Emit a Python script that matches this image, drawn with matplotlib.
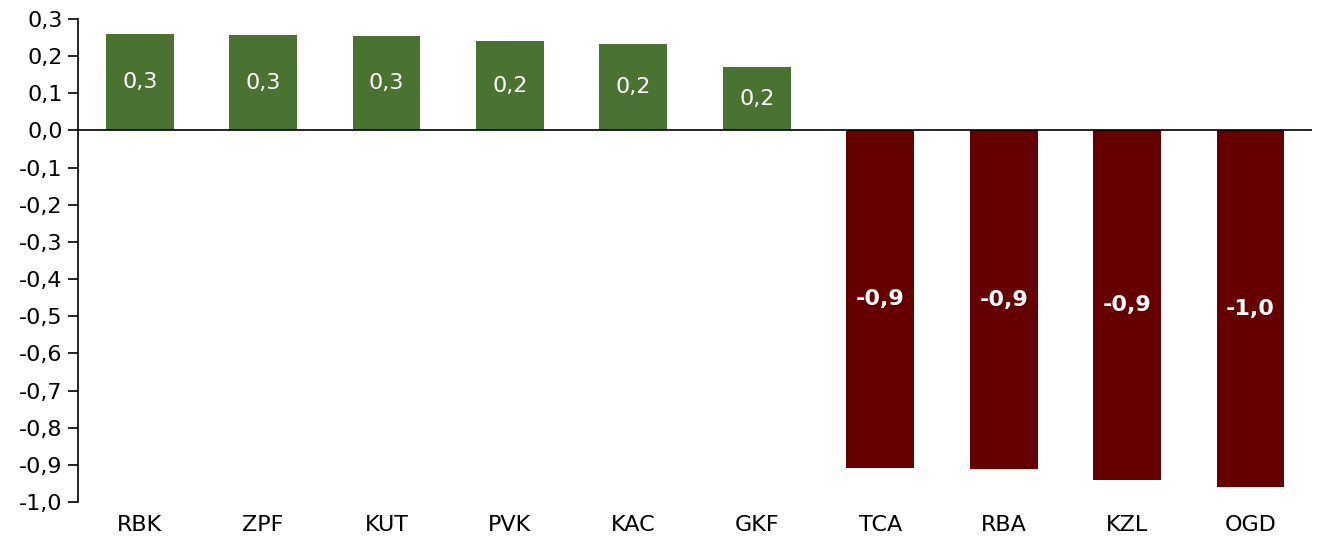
import matplotlib.pyplot as plt
import numpy as np

categories = ["RBK", "ZPF", "KUT", "PVK", "KAC", "GKF", "TCA", "RBA", "KZL", "OGD"]
values = [0.259, 0.256, 0.253, 0.240, 0.234, 0.172, -0.908, -0.911, -0.941, -0.960]
yticks = [0.3, 0.2, 0.1, 0.0, -0.1, -0.2, -0.3, -0.4, -0.5, -0.6, -0.7, -0.8, -0.9, -1.0]

green = "#4a7332"
red = "#650000"


def fmt(v):
    return f"{v:.1f}".replace(".", ",").replace("-0,0", "0,0")


fig = plt.figure(figsize=(13.22, 5.38), dpi=100)
ax = fig.add_axes([0.059, 0.0669, 0.9336, 0.8978])

x = np.arange(len(categories))
colors = [green if v >= 0 else red for v in values]
ax.bar(x, values, width=0.55, color=colors, zorder=2)

for xi, v in zip(x, values):
    ax.text(xi, v / 2, fmt(v), ha="center", va="center", color="white",
            fontsize=16, fontweight="normal" if v >= 0 else "bold", zorder=3)

ax.axhline(0, color="black", linewidth=1.2, zorder=4)

ax.set_xlim(-0.5, 9.5)
ax.set_ylim(-1.0, 0.3)
ax.set_yticks(yticks)
ax.set_yticklabels([fmt(t) for t in yticks], fontsize=16)
ax.set_xticks(x)
ax.set_xticklabels(categories, fontsize=16)
ax.tick_params(axis="x", length=0, pad=9)
ax.tick_params(axis="y", direction="out", length=7, width=1.2, pad=4)

for s in ["top", "right", "bottom"]:
    ax.spines[s].set_visible(False)
ax.spines["left"].set_linewidth(1.2)

fig.savefig("out.png", dpi=100)
